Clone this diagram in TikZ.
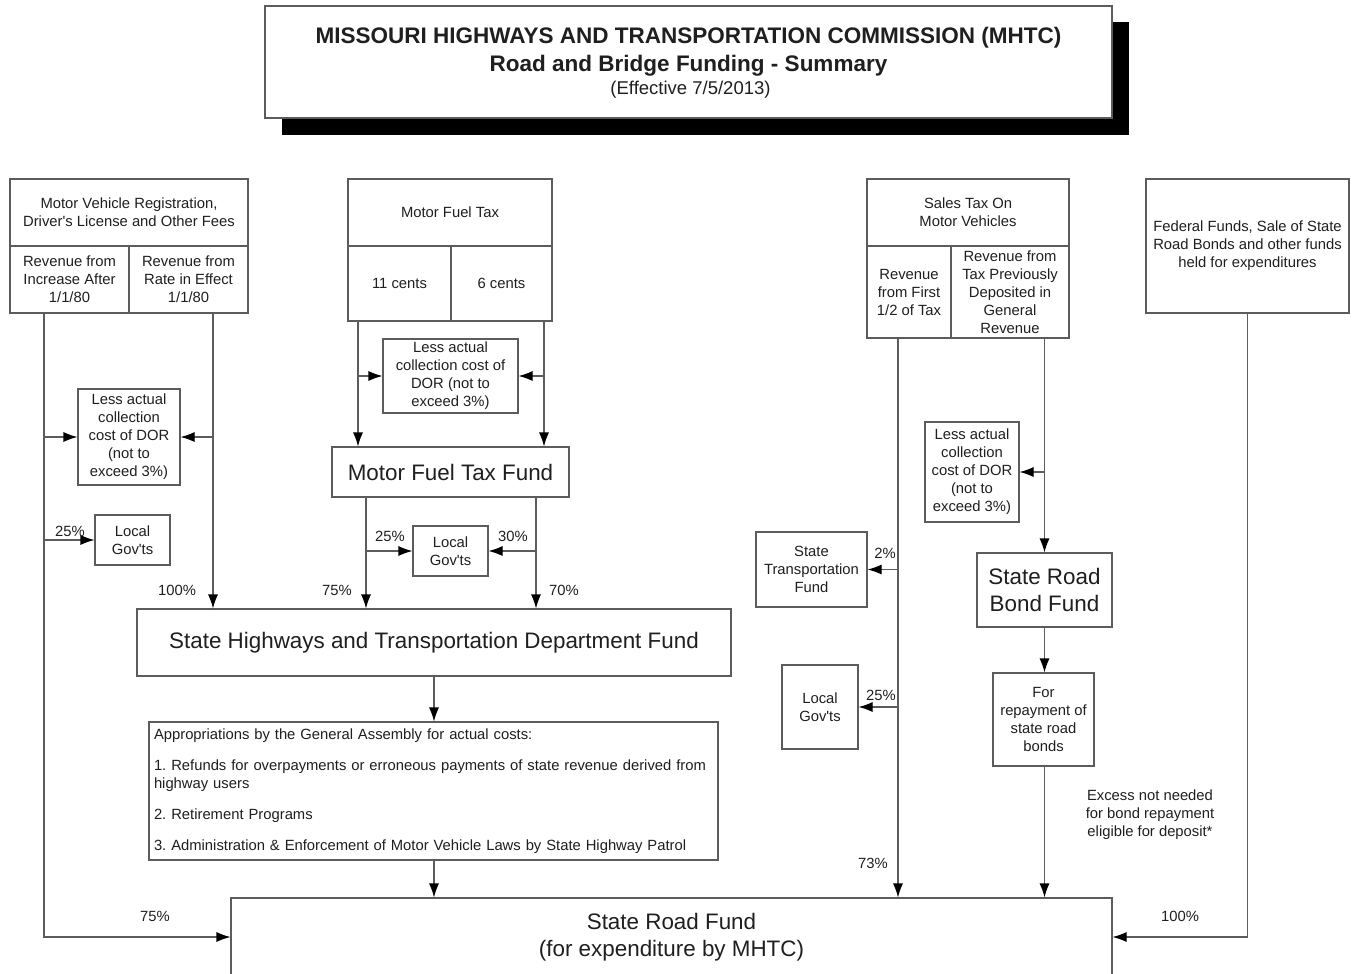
\documentclass[tikz,border=0pt]{standalone}
\usepackage{fontspec}
\setmainfont{Liberation Sans}
\usetikzlibrary{arrows.meta}

\definecolor{edge}{HTML}{5C5C5C}
\definecolor{ink}{HTML}{1F1F1F}

\newcommand\fsmall{\fontsize{14.8}{18}\selectfont}
\newcommand\fbig{\fontsize{22.4}{26.5}\selectfont}
\newcommand\apos{\textquotesingle}

\tikzset{
  box/.style={draw=edge, line width=1.1pt, fill=white, inner sep=0pt,
              align=center, text=ink, font=\fsmall},
  bigbox/.style={box, font=\fbig},
  flow/.style={draw=edge, line width=1.1pt,
               -{Latex[length=14pt,width=10pt,color=black]}},
  pct/.style={text=ink, font=\fsmall, inner sep=0pt},
}

\begin{document}
\frenchspacing
\begin{tikzpicture}[x=1pt, y=-1pt]
\useasboundingbox (0,0) rectangle (1357,974);

% column positions of the vertical money trails
\coordinate (xA) at (44,0);
\coordinate (xB) at (213,0);
\coordinate (xC) at (358,0);
\coordinate (xD) at (544,0);
\coordinate (xE) at (366,0);
\coordinate (xF) at (536,0);
\coordinate (xG) at (898,0);

% ---- heading with drop shadow
\fill[black] (282,22) rectangle (1129,135);
\node[box, minimum width=847, minimum height=112] (title) at (688.5,62) {};
\node[anchor=base, text=ink, font=\bfseries\fontsize{22.5}{27}\selectfont, inner sep=0pt]
  (titleA) at (688.5,44) {MISSOURI HIGHWAYS AND TRANSPORTATION COMMISSION (MHTC)};
\node[anchor=base, text=ink, font=\bfseries\fontsize{22.5}{27}\selectfont, inner sep=0pt]
  (titleB) at (688.5,71) {Road and Bridge Funding - Summary};
\node[anchor=base, text=ink, font=\fontsize{18.5}{22}\selectfont, inner sep=0pt]
  (titleC) at (690.5,94.5) {(Effective 7/5/2013)};

% ---- motor vehicle fees
\node[box, minimum width=238, minimum height=67] (mvHead) at (129,212.5)
  {Motor Vehicle Registration,\\Driver\apos s License and Other Fees};
\node[box, minimum width=119, minimum height=67] (mvInc) at (69.5,279.5)
  {Revenue from\\Increase After\\1/1/80};
\node[box, minimum width=119, minimum height=67] (mvRate) at (188.5,279.5)
  {Revenue from\\Rate in Effect\\1/1/80};
\node[box, minimum width=102, minimum height=96] (lessA) at (129,437)
  {Less actual\\collection\\cost of DOR\\(not to\\exceed 3\%)};
\node[box, minimum width=75, minimum height=50] (localA) at (132.5,540)
  {Local\\Gov\apos ts};

% ---- motor fuel tax
\node[box, minimum width=204, minimum height=67] (mftHead) at (450,212.5) {Motor Fuel Tax};
\node[box, minimum width=103, minimum height=75] (mftA) at (399.5,283.5) {11 cents};
\node[box, minimum width=101, minimum height=75] (mftB) at (501.5,283.5) {6 cents};
\node[box, minimum width=135, minimum height=74] (lessB) at (450.5,376)
  {Less actual\\collection cost of\\DOR (not to\\exceed 3\%)};
\node[bigbox, minimum width=237, minimum height=50] (mftFund) at (450.5,472)
  {Motor Fuel Tax Fund};
\node[box, minimum width=75, minimum height=50] (localB) at (450.5,551)
  {Local\\Gov\apos ts};

% ---- department fund and appropriations
\node[bigbox, minimum width=594, minimum height=67] (shtd) at (434,642.5)
  {State Highways and Transportation Department Fund};
\node[box, minimum width=569, minimum height=138, text width=559, align=left] (approp) at (433.5,791)
  {Appropriations by the General Assembly for actual costs:\\[13pt]
   1. Refunds for overpayments or erroneous payments of state revenue derived from\\
   highway users\\[13pt]
   2. Retirement Programs\\[13pt]
   3. Administration \& Enforcement of Motor Vehicle Laws by State Highway Patrol};

% ---- sales tax on motor vehicles
\node[box, minimum width=202, minimum height=67] (salesHead) at (968,212.5)
  {Sales Tax On\\Motor Vehicles};
\node[box, minimum width=84, minimum height=92] (salesA) at (909,292)
  {Revenue\\from First\\1/2 of Tax};
\node[box, minimum width=118, minimum height=92] (salesB) at (1010,292)
  {Revenue from\\Tax Previously\\Deposited in\\General\\Revenue};
\node[box, minimum width=94, minimum height=100] (lessC) at (972,472)
  {Less actual\\collection\\cost of DOR\\(not to\\exceed 3\%)};
\node[box, minimum width=111, minimum height=75] (stf) at (811.5,569.5)
  {State\\Transportation\\Fund};
\node[box, minimum width=76, minimum height=84] (localC) at (820,707)
  {Local\\Gov\apos ts};
\node[bigbox, minimum width=135, minimum height=74] (bond) at (1044.5,590)
  {State Road\\Bond Fund};
\node[box, minimum width=101, minimum height=93] (repay) at (1043.5,719.5)
  {For\\repayment of\\state road\\bonds};

% ---- federal and other funds
\node[box, minimum width=203, minimum height=134] (fed) at (1247.5,246)
  {Federal Funds, Sale of State\\Road Bonds and other funds\\held for expenditures};

% ---- state road fund
\node[bigbox, minimum width=881, minimum height=78] (srf) at (671.5,937)
  {State Road Fund\\(for expenditure by MHTC)};

% ---- connectors
\draw[flow] (mvInc.south -| xA) |- (srf.west);
\draw[flow] (mvRate.south -| xB) -- (shtd.north -| xB);
\draw[flow] (lessA.west -| xA) -- (lessA.west);
\draw[flow] (lessA.east -| xB) -- (lessA.east);
\draw[flow] (localA.west -| xA) -- (localA.west);

\draw[flow] (mftA.south -| xC) -- (mftFund.north -| xC);
\draw[flow] (mftB.south -| xD) -- (mftFund.north -| xD);
\draw[flow] (lessB.west -| xC) -- (lessB.west);
\draw[flow] (lessB.east -| xD) -- (lessB.east);
\draw[flow] (mftFund.south -| xE) -- (shtd.north -| xE);
\draw[flow] (mftFund.south -| xF) -- (shtd.north -| xF);
\draw[flow] (localB.west -| xE) -- (localB.west);
\draw[flow] (localB.east -| xF) -- (localB.east);

\draw[flow] (shtd.south) -- (approp.north -| shtd.south);
\draw[flow] (approp.south -| shtd.south) -- (srf.north -| shtd.south);

\draw[flow] (salesA.south -| xG) -- (srf.north -| xG);
\draw[flow] (stf.east -| xG) -- (stf.east);
\draw[flow] (localC.east -| xG) -- (localC.east);
\draw[flow] (salesB.south -| bond.north) -- (bond.north);
\draw[flow] (lessC.east -| bond.north) -- (lessC.east);
\draw[flow] (bond.south) -- (repay.north -| bond.south);
\draw[flow] (repay.south -| bond.south) -- (srf.north -| bond.south);

\draw[flow] (fed.south) |- (srf.east);

% ---- shares
\node[pct] (pA25) at (70,531) {25\%};
\node[pct] (pA100) at (177,590) {100\%};
\node[pct] (pB25) at (390,536) {25\%};
\node[pct] (pB30) at (513,536) {30\%};
\node[pct] (pB75) at (337,590) {75\%};
\node[pct] (pB70) at (564,590) {70\%};
\node[pct] (pA75) at (155,916) {75\%};
\node[pct] (pC2) at (885,553) {2\%};
\node[pct] (pC25) at (881,695) {25\%};
\node[pct] (pC73) at (873,863) {73\%};
\node[pct] (pF100) at (1180,916) {100\%};
\node[pct, align=center] (excess) at (1150,815)
  {Excess not needed\\for bond repayment\\eligible for deposit*};
\end{tikzpicture}
\end{document}
